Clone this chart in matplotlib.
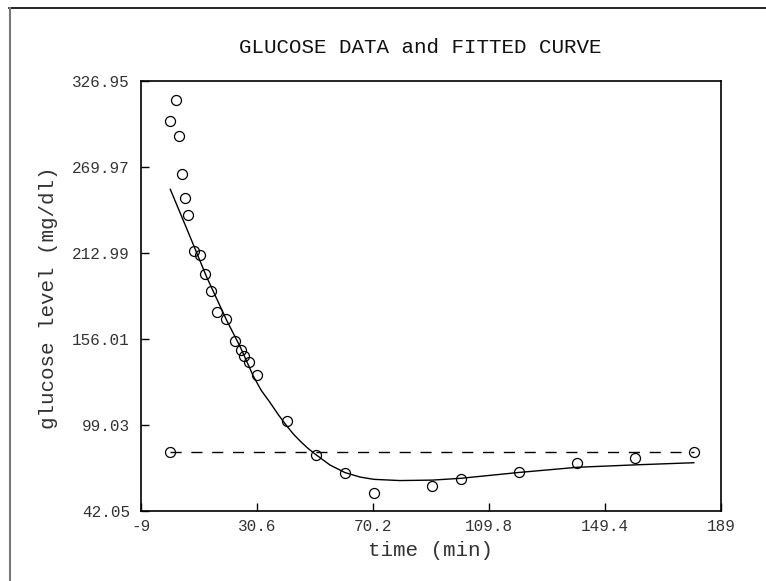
import numpy as np
import matplotlib
matplotlib.use("Agg")
import matplotlib.pyplot as plt
from matplotlib.lines import Line2D

# measured glucose samples
time_min = [1, 3, 4, 5, 6, 7, 9, 11, 13, 15, 17, 20, 23, 25, 26, 28, 30.7,
            40.7, 50.6, 60.6, 70.5, 90.4, 100.2, 120.2, 140, 159.8, 179.7]
glucose = [300.2, 314.2, 290.3, 265.1, 249.0, 237.9, 214.0, 211.8, 198.8,
           187.5, 173.6, 169.4, 154.5, 148.8, 144.4, 140.4, 132.4,
           101.9, 79.2, 67.0, 53.7, 58.8, 63.0, 68.1, 73.9, 77.2, 80.9]

# fitted curve
fit_t = [1.0, 6.6, 13.4, 20.3, 24.8, 29.3, 32.0, 35.0, 37.8, 40.5, 43.0,
         45.5, 48.0, 50.6, 55.5, 60.6, 65.8, 70.5, 79.4, 90.4, 100.2, 120.2,
         140, 159.8, 179.7]
fit_g = [255.0, 229.0, 197.0, 168.0, 151.0, 131.5, 122.0, 114.0, 106.0,
         99.0, 93.0, 88.0, 83.5, 79.5, 72.5, 67.5, 64.5, 63.0, 62.2, 62.5,
         63.7, 67.6, 71.0, 72.6, 74.0]

# basal level
basal_t = [1, 179.7]
basal_g = [80.9, 80.9]
basal_pt_t = [1]
basal_pt_g = [80.9]

xticks = [-9, 30.6, 70.2, 109.8, 149.4, 189]
yticks = [42.05, 99.03, 156.01, 212.99, 269.97, 326.95]

plt.rcParams['font.family'] = ['Liberation Mono', 'DejaVu Sans Mono']

fig = plt.figure(figsize=(7.66, 5.81), dpi=100)
ax = fig.add_axes([0.1841, 0.1205, 0.7572, 0.7406])

ax.plot(fit_t, fit_g, color='black', lw=1.0)
ax.plot(basal_t, basal_g, color='black', lw=1.0, dashes=(8, 7))
ax.plot(time_min, glucose, 'o', mfc='none', mec='black', ms=7.2, mew=0.9)
ax.plot(basal_pt_t, basal_pt_g, 'o', mfc='none', mec='black', ms=7.2, mew=0.9)

ax.set_xlim(-9, 189)
ax.set_ylim(42.05, 326.95)
ax.set_xticks(xticks)
ax.set_xticklabels(['-9', '30.6', '70.2', '109.8', '149.4', '189'])
ax.set_yticks(yticks)
ax.set_yticklabels(['%.2f' % v for v in yticks])
ax.tick_params(direction='in', length=6, width=1, labelsize=11.5,
               colors='black', labelcolor='#333333')
ax.tick_params(axis='x', pad=6)
ax.tick_params(axis='y', pad=8)
for s in ax.spines.values():
    s.set_linewidth(1.2)

fig.text(0.548, 0.919, 'GLUCOSE DATA and FITTED CURVE', ha='center',
         va='center', fontsize=15, color='#111111')
fig.text(0.562, 0.053, 'time (min)', ha='center', va='center',
         fontsize=15, color='#333333')
fig.text(0.063, 0.487, 'glucose level (mg/dl)', ha='center', va='center',
         rotation=90, fontsize=15, color='#333333')

# frame edges on top and left of the picture
fig.add_artist(Line2D([9 / 766, 1], [1 - 7.5 / 581, 1 - 7.5 / 581],
                      transform=fig.transFigure, color='black', lw=1.2))
fig.add_artist(Line2D([9.5 / 766, 9.5 / 766], [0, 1 - 7.5 / 581],
                      transform=fig.transFigure, color='#777777', lw=1.5))

fig.savefig('out.png', dpi=100)
